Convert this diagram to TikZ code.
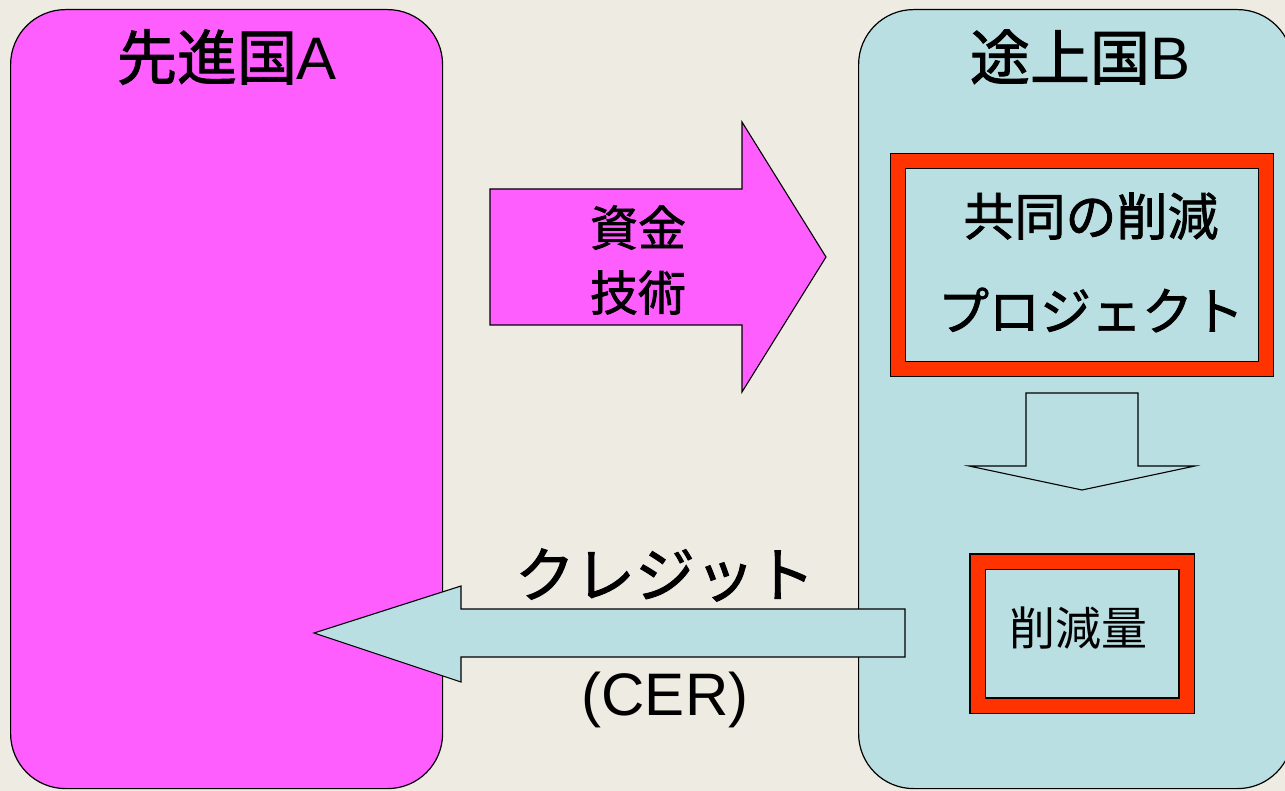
\documentclass[tikz,border=0pt]{standalone}
\usepackage{fontspec}
\setmainfont{Liberation Sans}
\newfontfamily\cjk{Noto Sans CJK JP}
\newfontfamily\cjkmf[BoldFont={Noto Sans CJK JP}, BoldFeatures={FakeBold=1.5}]{Noto Sans CJK JP}
\newcommand{\cjkm}{\cjkmf\bfseries}
\definecolor{bg}{RGB}{237,235,226}
\definecolor{mag}{RGB}{255,94,255}
\definecolor{lblue}{RGB}{185,223,227}
\definecolor{cred}{RGB}{255,51,0}
\begin{document}
\begin{tikzpicture}[x=1pt,y=-1pt,
  country/.style={draw=black, line width=1.2pt, rounded corners=55pt, anchor=north west, inner sep=0pt},
  redbox/.style={draw=black, line width=1.1pt, double=cred, double distance=14pt, fill=lblue, inner sep=0pt},
  blockarrow/.style={draw=black, line width=1.1pt},
  fs/.style={font=\fontsize{#1}{#1}\selectfont}
]
\useasboundingbox (0,0) rectangle (1285,791);
\fill[bg] (0,0) rectangle (1285,791);
\begin{scope}
\clip (0,0) rectangle (1285,791);
% countries
\node[country, fill=mag, minimum width=432pt, minimum height=779pt] (A) at (10,9) {};
\node[country, fill=lblue, minimum width=434pt, minimum height=779pt] (B) at (858,9) {};
\node[fs=60] (tA) at (227,57) {{\cjkm 先進国}A};
\node[fs=60] (tB) at (1080,57) {{\cjkm 途上国}B};

% funds arrow
\draw[blockarrow, fill=mag] (490,189) -- (742,189) -- (742,122) -- (826,257) -- (742,392) -- (742,325) -- (490,325) -- cycle;
\node[fs=48, align=center, inner sep=0pt] (funds) at (638,260) {\cjkm 資金\\[17pt]\cjkm 技術};

% project box
\node[redbox, minimum width=368pt, minimum height=208pt] (proj) at (1082,265) {};
\node[fs=51, inner sep=0pt] (p1) at (1091,216) {\cjkm 共同の削減};
\node[fs=51, inner sep=0pt] (p2) at (1091,310) {\cjkm プロジェクト};

% down arrow
\draw[blockarrow, fill=lblue] (1026,393) -- (1138,393) -- (1138,466) -- (1195,466) -- (1082,490) -- (969,466) -- (1026,466) -- cycle;

% reduction box
\node[redbox, minimum width=209pt, minimum height=144pt] (red) at (1082,633.5) {};
\node[fs=46, inner sep=0pt] (redt) at (1078,628) {\cjk 削減量};

% credit arrow
\draw[blockarrow, fill=lblue] (905,609) -- (461,609) -- (461,586) -- (314,633) -- (461,682) -- (461,657) -- (905,657) -- cycle;
\node[fs=60, inner sep=0pt] (cr) at (665,575) {\cjkm クレジット};
\node[fs=60, inner sep=0pt] (cer) at (665,700) {(CER)};
\end{scope}
\end{tikzpicture}
\end{document}
